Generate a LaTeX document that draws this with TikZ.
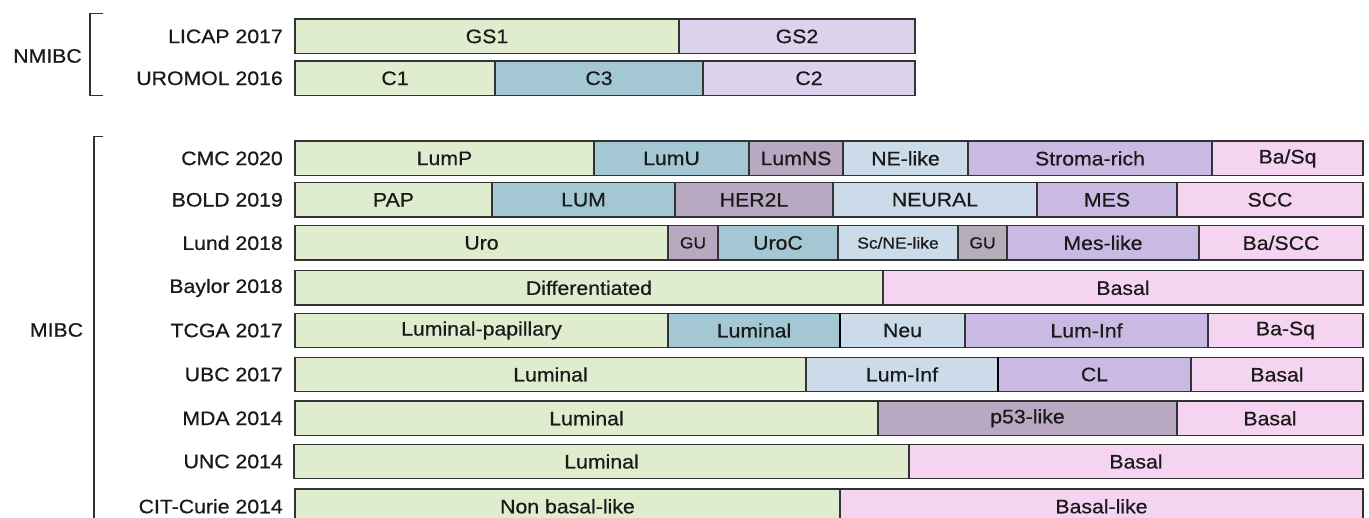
\documentclass[tikz,border=0pt]{standalone}
\usepackage{fontspec}
\setmainfont{Liberation Sans}[FakeStretch=1.09,FakeBold=0.6]
\definecolor{cG}{HTML}{E0ECCE}
\definecolor{cT}{HTML}{A4C8D3}
\definecolor{cL}{HTML}{DCD2EC}
\definecolor{cP}{HTML}{C9B9E3}
\definecolor{cM}{HTML}{B8A8C2}
\definecolor{cY}{HTML}{B5ADB9}
\definecolor{cB}{HTML}{CCDBE9}
\definecolor{cK}{HTML}{F5D4F2}
\definecolor{edge}{HTML}{333333}
\definecolor{txt}{HTML}{1A1A1A}
\tikzset{
  segbox/.style={draw=edge, line width=1.4pt, inner sep=0pt, outer sep=0pt,
    minimum height=34.5pt, anchor=west, text=txt, font=\fontsize{19.5}{22}\selectfont},
  rowlab/.style={anchor=east, inner sep=0pt, text=txt, font=\fontsize{19.5}{22}\selectfont},
  grouplab/.style={inner sep=0pt, text=txt, font=\fontsize{19.5}{22}\selectfont},
  brack/.style={draw=edge, line width=1.2pt},
  thickdiv/.style={draw=black, line width=2.6pt}
}
\newcommand\seg[6]{\node[segbox, fill=#5, minimum width={#3-#2}] (#1) at (#2,#4) {#6};}
\begin{document}
\begin{tikzpicture}[x=1pt,y=-1pt]
\useasboundingbox (0,0) rectangle (1369,518);
\clip (0,0) rectangle (1369,518);
\fill[white] (0,0) rectangle (1369,518);
% group brackets
\coordinate (nt) at (103,13.3);
\coordinate (nb) at (103,95.7);
\draw[brack] (nt) -| (90,95.7) -- (nb);
\node[grouplab] (nmibc) at (47.5,56) {NMIBC};
\coordinate (mt) at (103,136.7);
\coordinate (mb) at (94,520);
\draw[brack] (mt) -| (mb);
\node[grouplab] (mibc) at (56.5,330) {MIBC};
% NMIBC rows
\node[rowlab] (lLICAP) at (283,36.4) {LICAP 2017};
\seg{licap1}{295}{679}{36.4}{cG}{GS1}
\seg{licap2}{679}{915}{36.4}{cL}{GS2}
\node[rowlab] (lURO) at (283,78.3) {UROMOL 2016};
\seg{uro1}{295}{495}{78.3}{cG}{C1}
\seg{uro2}{495}{703}{78.3}{cT}{C3}
\seg{uro3}{703}{915}{78.3}{cL}{C2}
% CMC
\node[rowlab] (lCMC) at (283,158.4) {CMC 2020};
\seg{cmc1}{295}{594}{158.4}{cG}{LumP}
\seg{cmc2}{594}{749}{158.4}{cT}{LumU}
\seg{cmc3}{749}{843}{158.4}{cM}{LumNS}
\seg{cmc4}{843}{968}{158.4}{cB}{NE-like}
\seg{cmc5}{968}{1212}{158.4}{cP}{Stroma-rich}
\seg{cmc6}{1212}{1363}{158.4}{cK}{Ba/Sq}
% BOLD
\node[rowlab] (lBOLD) at (283,199.8) {BOLD 2019};
\seg{bold1}{295}{492}{199.8}{cG}{PAP}
\seg{bold2}{492}{675}{199.8}{cT}{LUM}
\seg{bold3}{675}{833}{199.8}{cM}{HER2L}
\seg{bold4}{833}{1037}{199.8}{cB}{NEURAL}
\seg{bold5}{1037}{1177}{199.8}{cP}{MES}
\seg{bold6}{1177}{1363}{199.8}{cK}{SCC}
% Lund
\node[rowlab] (lLund) at (283,242.9) {Lund 2018};
\seg{lund1}{295}{668}{242.9}{cG}{Uro}
\seg{lund2}{668}{718}{242.9}{cM}{\fontsize{16}{18}\selectfont GU}
\seg{lund3}{718}{838}{242.9}{cT}{UroC}
\seg{lund4}{838}{958}{242.9}{cB}{\fontsize{16}{18}\selectfont Sc/NE-like}
\seg{lund5}{958}{1007}{242.9}{cY}{\fontsize{16}{18}\selectfont GU}
\seg{lund6}{1007}{1199}{242.9}{cP}{Mes-like}
\seg{lund7}{1199}{1363}{242.9}{cK}{Ba/SCC}
% Baylor
\node[rowlab] (lBaylor) at (283,287.9) {Baylor 2018};
\seg{bay1}{295}{883}{287.9}{cG}{Differentiated}
\seg{bay2}{883}{1363}{287.9}{cK}{Basal}
% TCGA
\node[rowlab] (lTCGA) at (283,330.5) {TCGA 2017};
\seg{tcga1}{295}{668}{330.5}{cG}{Luminal-papillary}
\seg{tcga2}{668}{840}{330.5}{cT}{Luminal}
\seg{tcga3}{840}{965}{330.5}{cB}{Neu}
\seg{tcga4}{965}{1208}{330.5}{cP}{Lum-Inf}
\seg{tcga5}{1208}{1363}{330.5}{cK}{Ba-Sq}
\draw[thickdiv] (tcga2.north east) -- (tcga2.south east);
% UBC
\node[rowlab] (lUBC) at (283,374.5) {UBC 2017};
\seg{ubc1}{295}{806}{374.5}{cG}{Luminal}
\seg{ubc2}{806}{998}{374.5}{cB}{Lum-Inf}
\seg{ubc3}{998}{1191}{374.5}{cP}{CL}
\seg{ubc4}{1191}{1363}{374.5}{cK}{Basal}
\draw[thickdiv] (ubc2.north east) -- (ubc2.south east);
% MDA
\node[rowlab] (lMDA) at (283,418.3) {MDA 2014};
\seg{mda1}{295}{878}{418.3}{cG}{Luminal}
\seg{mda2}{878}{1177}{418.3}{cM}{p53-like}
\seg{mda3}{1177}{1363}{418.3}{cK}{Basal}
% UNC
\node[rowlab] (lUNC) at (283,461.5) {UNC 2014};
\seg{unc1}{294}{909}{461.5}{cG}{Luminal}
\seg{unc2}{909}{1363}{461.5}{cK}{Basal}
% CIT
\node[rowlab] (lCIT) at (283,506.3) {CIT-Curie 2014};
\seg{cit1}{295}{840}{506.3}{cG}{Non basal-like}
\seg{cit2}{840}{1363}{506.3}{cK}{Basal-like}
\end{tikzpicture}
\end{document}
